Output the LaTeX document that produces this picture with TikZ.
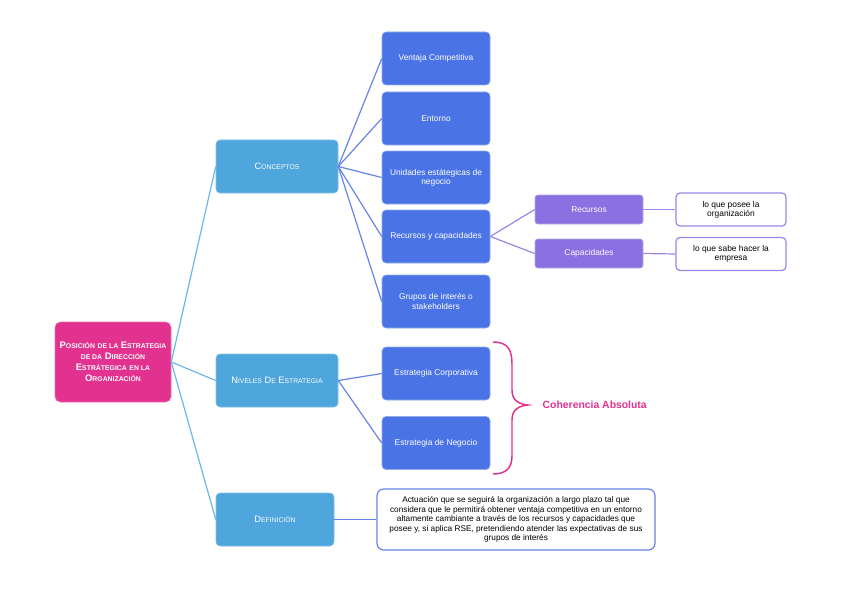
\documentclass[tikz,border=0pt]{standalone}
\usepackage{fontspec}
\setmainfont{Liberation Sans}
\usetikzlibrary{calc}

\definecolor{rosa}{HTML}{E2318E}
\definecolor{celeste}{HTML}{4EA6DC}
\definecolor{azul}{HTML}{4A73E6}
\definecolor{morado}{HTML}{8A70E0}
\definecolor{lineaceleste}{HTML}{6DB6E8}
\definecolor{lineaazul}{HTML}{6684E8}
\definecolor{lineamorado}{HTML}{9A86E6}

% versalitas hechas a mano
\newcommand\vscfont{\fontsize{5}{6}\selectfont}
\newcommand\vsc[2]{{#1}{\vscfont\MakeUppercase{#2}}}

\tikzset{
  raiz/.style={fill=rosa, draw=rosa!70!white, rounded corners=4pt, text=white,
    minimum width=87pt, minimum height=60pt, align=center, inner sep=1pt,
    font=\def\vscfont{\fontsize{5.15}{6}\selectfont}\bfseries\fontsize{7.1}{8.3}\selectfont},
  nivel/.style={fill=celeste, draw=celeste!70!white, rounded corners=3pt, text=white,
    minimum width=91.5pt, minimum height=39.75pt, align=center,
    font=\def\vscfont{\fontsize{5.1}{6}\selectfont}\fontsize{7}{8}\selectfont},
  hoja/.style={fill=azul, draw=azul!60!white, rounded corners=3pt, text=white,
    minimum width=81pt, minimum height=39.75pt, align=center,
    inner sep=1pt, font=\fontsize{6.3}{7}\selectfont},
  recurso/.style={fill=morado, draw=morado!60!white, rounded corners=2pt, text=white,
    minimum width=81pt, minimum height=21.75pt, align=center,
    font=\fontsize{6.3}{7}\selectfont},
  nota/.style={fill=white, draw=lineamorado, line width=.9pt, rounded corners=3pt,
    minimum width=82.5pt, minimum height=24.75pt, align=center,
    inner sep=1pt, font=\fontsize{6.3}{7}\selectfont},
  defcaja/.style={fill=white, draw=lineaazul, line width=.9pt, rounded corners=5pt,
    minimum width=208.5pt, minimum height=45.75pt, align=center,
    inner sep=1pt, font=\fontsize{6.2}{7.1}\selectfont},
  rama/.style={line width=.9pt},
}

\begin{document}
\begin{tikzpicture}[x=0.75pt, y=-0.75pt]
\useasboundingbox (0,0) rectangle (848,599);

% nodo central
\node[raiz] (posicion) at (113,362) {\vsc{P}{osición} \vsc{}{de la} \vsc{E}{strategia}\\
  \vsc{}{de da} \vsc{D}{irección}\\ \vsc{E}{strátegica} \vsc{}{en la}\\ \vsc{O}{rganización}};

% primer nivel
\node[nivel] (conceptos) at (277,166.5) {\vsc{C}{onceptos}};
\node[nivel] (niveles) at (277,380.5) {\vsc{N}{iveles} \vsc{D}{e} \vsc{E}{strategia}};
\node[nivel, minimum width=88.5pt] (definicion) at (275,519.5) {\vsc{D}{efinición}};

% conceptos
\node[hoja] (ventaja) at (436,58.5) {Ventaja Competitiva};
\node[hoja] (entorno) at (436,118.5) {Entorno};
\node[hoja] (unidades) at (436,177.5) {Unidades estátegicas de\\negocio};
\node[hoja] (recycap) at (436,236.5) {Recursos y capacidades};
\node[hoja] (grupos) at (436,301.5) {Grupos de interés o\\stakeholders};

% recursos y capacidades
\node[recurso] (recursos) at (589,209.5) {Recursos};
\node[recurso] (capacidades) at (589,253.5) {Capacidades};
\node[nota] (posee) at (731,209.5) {lo que posee la\\organización};
\node[nota] (sabe) at (731,254) {lo que sabe hacer la\\empresa};

% niveles
\node[hoja] (corporativa) at (436,373.5) {Estrategia Corporativa};
\node[hoja] (negocio) at (436,443) {Estrategia de Negocio};

% definicion
\node[defcaja] (actuacion) at (516,519.5) {Actuación que se seguirá la organización a largo plazo tal que\\
  considera que le permitirá obtener ventaja competitiva en un entorno\\
  altamente cambiante a través de los recursos y capacidades que\\
  posee y, si aplica RSE, pretendiendo atender las expectativas de sus\\
  grupos de interés};

% ramas
\foreach \n in {conceptos, niveles, definicion} {
 \draw[rama, lineaceleste] (posicion.east) -- (\n.west);
}
\foreach \n in {ventaja, entorno, unidades, recycap, grupos} {
 \draw[rama, lineaazul] (conceptos.east) -- (\n.west);
}
\foreach \n in {corporativa, negocio} {
 \draw[rama, lineaazul] (niveles.east) -- (\n.west);
}
\foreach \n in {recursos, capacidades} {
 \draw[rama, lineamorado] (recycap.east) -- (\n.west);
}
\draw[rama, lineamorado] (recursos.east) -- (posee.west);
\draw[rama, lineamorado] (capacidades.east) -- (sabe.west);
\draw[rama, lineaazul] (definicion.east) -- (actuacion.west);

% llave
\draw[rosa, line width=1.1pt] (493,342) .. controls (508,342) and (512,350) .. (512,364)
  -- (512,390) .. controls (512,400) and (518,404) .. (528,405)
  .. controls (518,406) and (512,410) .. (512,420)
  -- (512,456) .. controls (512,468) and (506,474) .. (493,474);
\node[text=rosa, font=\bfseries\fontsize{7.8}{9}\selectfont, anchor=west] (coherencia) at (538,405) {Coherencia Absoluta};
\end{tikzpicture}
\end{document}
